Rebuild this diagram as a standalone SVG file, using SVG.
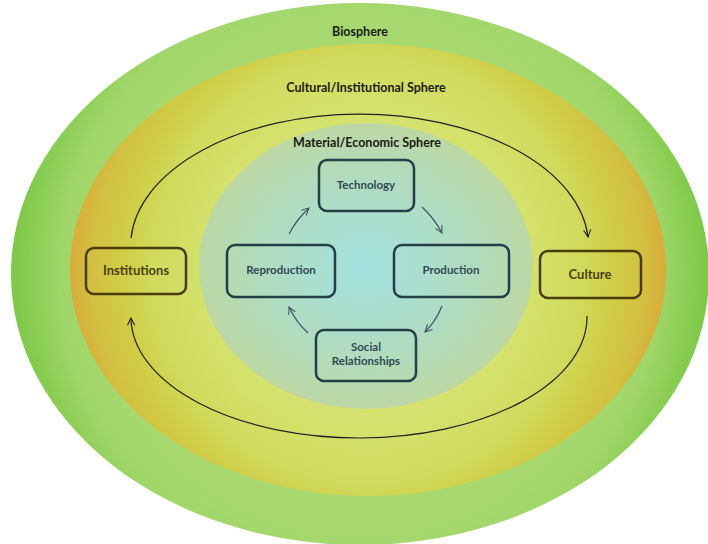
<svg xmlns="http://www.w3.org/2000/svg" width="708" height="544" viewBox="0 0 708 544">
<defs>
<radialGradient id="gBio" gradientUnits="userSpaceOnUse" cx="360" cy="274" r="349">
<stop offset="0" stop-color="#b2dc84"/>
<stop offset="0.75" stop-color="#a6d86e"/>
<stop offset="0.86" stop-color="#a0d668"/>
<stop offset="1" stop-color="#7bc846"/>
</radialGradient>
<radialGradient id="gCult" gradientUnits="userSpaceOnUse" cx="368" cy="270" r="298">
<stop offset="0" stop-color="#dde67c"/>
<stop offset="0.55" stop-color="#d4e26c"/>
<stop offset="0.72" stop-color="#d0da5c"/>
<stop offset="0.82" stop-color="#cfce46"/>
<stop offset="0.93" stop-color="#d3bf40"/>
<stop offset="1" stop-color="#d8ac3a"/>
</radialGradient>
<radialGradient id="gMat" cx="0.5" cy="0.5" r="0.5">
<stop offset="0" stop-color="#a3e2e0"/>
<stop offset="0.6" stop-color="#b0dcc0"/>
<stop offset="1" stop-color="#bcd8a4"/>
</radialGradient>
<marker id="ah" viewBox="0 0 10 10" refX="9" refY="5" markerWidth="9" markerHeight="9" orient="auto" markerUnits="userSpaceOnUse">
<path d="M1,1 L9,5 L1,9" fill="none" stroke="#222" stroke-width="1.2"/>
</marker>
<marker id="ahs" viewBox="0 0 10 10" refX="9" refY="5" markerWidth="9" markerHeight="9" orient="auto" markerUnits="userSpaceOnUse">
<path d="M1,1 L9,5 L1,9" fill="none" stroke="#3b5560" stroke-width="1.2"/>
</marker>
</defs>
<style>
.lbl{font-family:Lato,"Liberation Sans",sans-serif;font-weight:bold;font-size:12.5px;fill:#1c1c10;text-anchor:middle}
.ibox{fill:none;stroke:#243f48;stroke-width:2.5}
.obox{fill:none;stroke:#4a3c0c;stroke-width:2.5}
.it{font-family:Lato,"Liberation Sans",sans-serif;font-weight:bold;font-size:11.5px;fill:#2f4a52;text-anchor:middle}
.ot{font-family:Lato,"Liberation Sans",sans-serif;font-weight:bold;font-size:13px;fill:#4a4010;text-anchor:middle}
.big{fill:none;stroke:#222;stroke-width:1.2}
.sm{fill:none;stroke:#3b5560;stroke-width:1.2}
</style>
<rect width="708" height="544" fill="#ffffff"/>
<g id="biosphere">
<ellipse cx="360" cy="274" rx="349" ry="271" fill="url(#gBio)"/>
<text class="lbl" x="360" y="36">Biosphere</text>
</g>
<g id="cultural-sphere">
<ellipse cx="368" cy="270" rx="298" ry="226" fill="url(#gCult)"/>
<text class="lbl" x="366" y="92">Cultural/Institutional Sphere</text>
</g>
<g id="material-sphere">
<ellipse cx="366" cy="266" rx="167" ry="143" fill="url(#gMat)"/>
<text class="lbl" x="367" y="147">Material/Economic Sphere</text>
</g>
<g id="connectors">
<path class="big" d="M131,238 A229,132 0 0 1 588,237" marker-end="url(#ah)"/>
<path class="big" d="M587,316 A228,121 0 0 1 131,318" marker-end="url(#ah)"/>
<path class="sm" d="M289,234 Q297,219 309,208" marker-end="url(#ahs)"/>
<path class="sm" d="M422,207 Q434,218 442,233" marker-end="url(#ahs)"/>
<path class="sm" d="M442,306 Q436,321 425,332" marker-end="url(#ahs)"/>
<path class="sm" d="M308,333 Q296,322 289,307" marker-end="url(#ahs)"/>
</g>
<g id="technology">
<rect class="ibox" x="319" y="160" width="95" height="51" rx="8"/>
<text class="it" x="366" y="189">Technology</text>
</g>
<g id="reproduction">
<rect class="ibox" x="227" y="245" width="108" height="52" rx="8"/>
<text class="it" x="281" y="274">Reproduction</text>
</g>
<g id="production">
<rect class="ibox" x="394" y="245" width="115" height="52" rx="8"/>
<text class="it" x="451" y="274">Production</text>
</g>
<g id="social-relationships">
<rect class="ibox" x="316" y="330" width="100" height="51" rx="8"/>
<text class="it" x="366" y="351">Social</text>
<text class="it" x="366" y="365">Relationships</text>
</g>
<g id="institutions">
<rect class="obox" x="86" y="248" width="100" height="46" rx="8"/>
<text class="ot" x="136" y="275">Institutions</text>
</g>
<g id="culture">
<rect class="obox" x="540" y="251" width="101" height="47" rx="8"/>
<text class="ot" x="590" y="279">Culture</text>
</g>
</svg>
